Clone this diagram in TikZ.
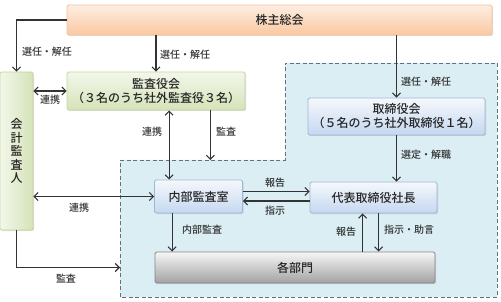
\documentclass[tikz,border=0pt]{standalone}
\usepackage{fontspec}
\setmainfont{Noto Sans CJK JP}[UprightFont={* Medium}]
\usetikzlibrary{arrows.meta,calc,shadows}
\definecolor{areafill}{HTML}{DAEEF3}
\definecolor{arealine}{HTML}{5F7480}
\definecolor{orgtop}{HTML}{FDEEE3}
\definecolor{orgbot}{HTML}{FAC8A0}
\definecolor{orgline}{HTML}{F5C29A}
\definecolor{grntop}{HTML}{F3F7EA}
\definecolor{grnbot}{HTML}{D5E3B9}
\definecolor{grnline}{HTML}{C2D59A}
\definecolor{blutop}{HTML}{F5F8FC}
\definecolor{blubot}{HTML}{C5D8F0}
\definecolor{bluline}{HTML}{9DB8D9}
\definecolor{grytop}{HTML}{F7F7F7}
\definecolor{grybot}{HTML}{A3A1A1}
\definecolor{gryline}{HTML}{858585}
\begin{document}
\begin{tikzpicture}[x=1pt, y=-1pt,
    >={Straight Barb[length=4pt,width=8pt]},
    box/.style={rounded corners=1.5pt, line width=0.8pt, align=center, inner sep=0pt,
        font=\fontsize{12}{14}\selectfont, text=black!85,
        drop shadow={shadow xshift=1pt, shadow yshift=-1pt, opacity=0.25}},
    orgbox/.style={box, draw=orgline, top color=orgtop, bottom color=orgbot},
    grnbox/.style={box, draw=grnline, top color=grntop, bottom color=grnbot},
    blubox/.style={box, draw=bluline, top color=blutop, bottom color=blubot},
    grybox/.style={box, draw=gryline, top color=grytop, bottom color=grybot},
    arr/.style={->, line width=1.1pt, draw=black!80},
    arr2/.style={<->, line width=1.1pt, draw=black!80},
    lbl/.style={font=\fontsize{10}{12}\selectfont, text=black!80}]
    \useasboundingbox (0,0) rectangle (501,302);
    % Area
    \filldraw[fill=areafill, draw=arealine, line width=0.9pt, dash pattern=on 4pt off 2.5pt]
        (120,160) coordinate (lt) -- (285,160) -- (285,63) -- (497,63) -- (497,297) -- (120,297) -- cycle;
    % Boxes
    \node[orgbox, minimum width=425, minimum height=30] (kabunushi) at (279.5,20) {株主総会};
    \node[grnbox, minimum width=178, minimum height=38] (kansayaku) at (156,91) {監査役会\\（３名のうち社外監査役３名）};
    \node[blubox, minimum width=177, minimum height=37] (torishimari) at (396.5,116.5) {取締役会\\（５名のうち社外取締役１名）};
    \node[grnbox, left color=grntop, right color=grnbot, minimum width=33, minimum height=158,
        font=\fontsize{12}{13.5}\selectfont] (kaikei) at (16.5,151) {会\\計\\監\\査\\人};
    \node[blubox, minimum width=88, minimum height=33] (naibu) at (198.5,196.5) {内部監査室};
    \node[blubox, minimum width=127, minimum height=31] (daihyo) at (373.5,197.5) {代表取締役社長};
    \node[grybox, minimum width=280, minimum height=31] (bumon) at (295,267.5) {各部門};
    % Arrows from shareholders
    \draw[arr] (kabunushi.west) -| (kaikei.north);
    \node[lbl] (l1) at (47,52) {選任・解任};
    \draw[arr] (kansayaku.north |- kabunushi.south) -- (kansayaku.north);
    \node[lbl] (l2) at (185,55) {選任・解任};
    \draw[arr] (torishimari.north |- kabunushi.south) -- (torishimari.north);
    \node[lbl] (l3) at (426,82) {選任・解任};
    % Auditors
    \draw[arr2] (kansayaku.west) -- (kansayaku.west -| kaikei.east);
    \node[lbl] (l4) at (50,100) {連携};
    \coordinate (ka) at ($(naibu.north west)+(15,0)$);
    \draw[arr2] (ka) -- (ka |- kansayaku.south);
    \node[lbl] (l5) at (152,132) {連携};
    \coordinate (kb) at ($(kansayaku.south east)+(-35,0)$);
    \draw[arr] (kb) -- (kb |- lt);
    \node[lbl] (l6) at (226,132) {監査};
    \draw[arr2] (naibu.west) -- (naibu.west -| kaikei.east);
    \node[lbl] (l7) at (79,208) {連携};
    \draw[arr] (kaikei.south) |- (bumon.west -| lt);
    \node[lbl] (l8) at (66,279) {監査};
    % Internal audit
    \coordinate (na) at ($(naibu.south west)+(18,0)$);
    \draw[arr] (na) -- (na |- bumon.north);
    \node[lbl] (l9) at (202,230) {内部監査};
    \draw[arr] ([yshift=5pt]naibu.east) -- ([yshift=6pt]daihyo.west);
    \node[lbl] (l10) at (275,183) {報告};
    \draw[arr] ([yshift=-3.5pt]daihyo.west) -- ([yshift=-4.5pt]naibu.east);
    \node[lbl] (l11) at (275,211) {指示};
    % President
    \draw[arr] (torishimari.south) -- (torishimari.south |- daihyo.north);
    \node[lbl] (l12) at (426,155) {選定・解職};
    \coordinate (da) at ($(daihyo.south west)+(53,0)$);
    \draw[arr] (da |- bumon.north) -- (da);
    \node[lbl] (l13) at (346,232) {報告};
    \coordinate (db) at ($(daihyo.south west)+(69,0)$);
    \draw[arr] (db) -- (db |- bumon.north);
    \node[lbl] (l14) at (409,230) {指示・助言};
\end{tikzpicture}
\end{document}
